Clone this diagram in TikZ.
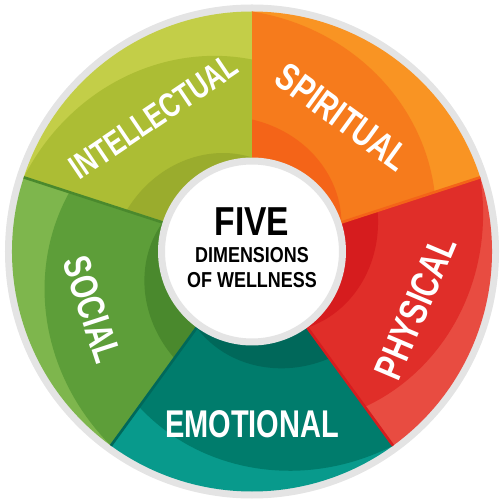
\documentclass[tikz,border=0pt]{standalone}
\usepackage{fontspec}
\newfontfamily\ringfont{Liberation Sans}[FakeStretch=0.75]
\newfontfamily\hubfont{Liberation Sans}[FakeStretch=0.83]

\definecolor{rimgrey}{HTML}{E4E4E4}
\definecolor{intelLt}{HTML}{C3CE48}
\definecolor{intelMd}{HTML}{ACBD34}
\definecolor{intelDk}{HTML}{9AAC2D}
\definecolor{spirLt}{HTML}{F99423}
\definecolor{spirMd}{HTML}{F67B1C}
\definecolor{spirDk}{HTML}{F46418}
\definecolor{physLt}{HTML}{E84C41}
\definecolor{physMd}{HTML}{E02E29}
\definecolor{physDk}{HTML}{D61C1E}
\definecolor{emoLt}{HTML}{089A8C}
\definecolor{emoMd}{HTML}{007C6C}
\definecolor{emoDk}{HTML}{00685A}
\definecolor{socLt}{HTML}{7EB64D}
\definecolor{socMd}{HTML}{5D9E39}
\definecolor{socDk}{HTML}{4A892D}

\tikzset{
  seglabel/.style={text=white, inner sep=0pt,
    font=\ringfont\bfseries\fontsize{#1}{#1}\selectfont},
  hubtext/.style={text=black, inner sep=0pt,
    font=\hubfont\bfseries\fontsize{#1}{#1}\selectfont},
}

\begin{document}
\begin{tikzpicture}[x=0.02cm,y=0.02cm]
\useasboundingbox (-252,-251.5) rectangle (251,251.5);
\fill[rimgrey] (0,0) circle (247);
% wedges: start angle / light / mid / dark
\foreach \a/\lt/\md/\dk in {90/intelLt/intelMd/intelDk, 18/spirLt/spirMd/spirDk,
    -54/physLt/physMd/physDk, -126/emoLt/emoMd/emoDk, 162/socLt/socMd/socDk}{
  \pgfmathsetmacro{\b}{\a+72}
  \fill[\lt] (0,0) -- (\a:240) arc[start angle=\a, end angle=\b, radius=240] -- cycle;
  \fill[\md] (0,0) -- plot[domain=\a:\b, samples=40] (\x:{192+48*(\x-\a)/72}) -- cycle;
  \fill[\dk] (0,0) -- plot[domain=\a:\b, samples=40] (\x:{94+38*(\x-\a)/72}) -- cycle;
}
% seams
\foreach \a/\dk in {18/spirDk, -54/physDk, -126/emoDk, 162/socDk}
  \draw[\dk, line width=1.5pt] (0,0) -- (\a:240);

\node[circle, fill=white, draw=rimgrey, line width=0.14cm, minimum size=3.62cm,
  inner sep=0pt] (hub) at (0,0) {};
\node[hubtext=23] (five) at (0,30) {FIVE};
\node[hubtext=12.3] (dims) at (0,-4) {DIMENSIONS};
\node[hubtext=12.3] (wellness) at (0,-29) {OF WELLNESS};

\node[seglabel=19.5, rotate=34] (intellectual) at (126:167) {INTELLECTUAL};
\node[seglabel=22, rotate=-36] (spiritual) at (56:162) {SPIRITUAL};
\node[seglabel=22.5, rotate=67] (physical) at (-19:173) {PHYSICAL};
\node[seglabel=22] (emotional) at (270:173) {EMOTIONAL};
\node[seglabel=22, rotate=-72] (social) at (200:170) {SOCIAL};
\end{tikzpicture}
\end{document}
